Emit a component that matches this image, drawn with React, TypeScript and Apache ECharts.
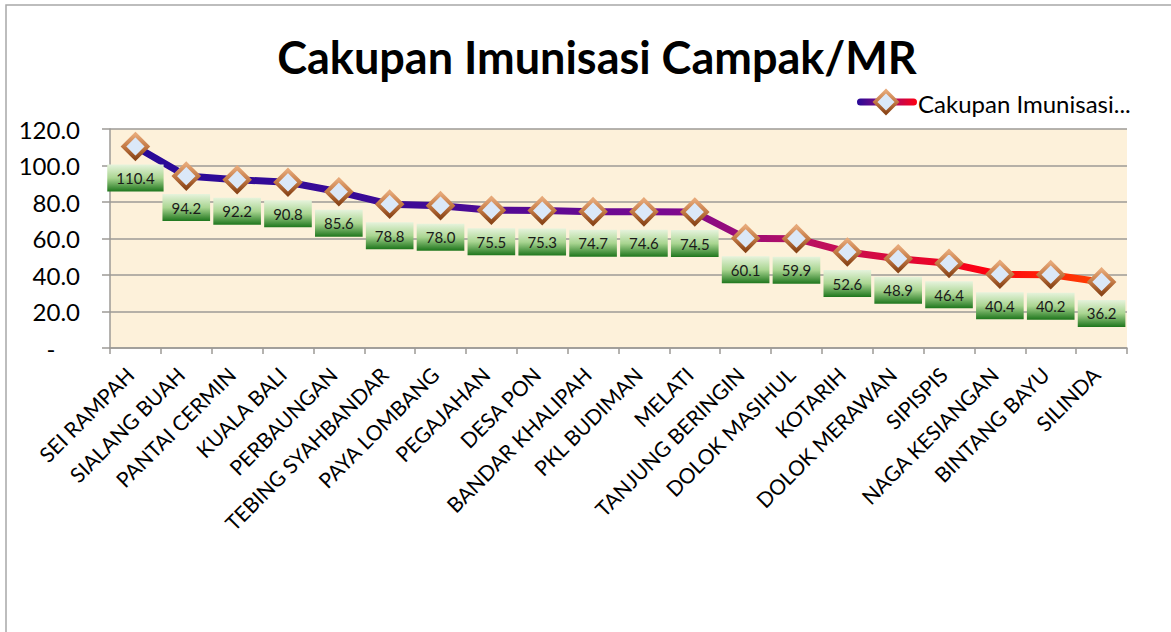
import React, { useEffect, useRef } from "react";
import * as echarts from "echarts";

const TITLE = "Cakupan Imunisasi Campak/MR";
const SERIES_NAME = "Cakupan Imunisasi...";
const categories = [
  "SEI RAMPAH", "SIALANG BUAH", "PANTAI CERMIN", "KUALA BALI", "PERBAUNGAN",
  "TEBING SYAHBANDAR", "PAYA LOMBANG", "PEGAJAHAN", "DESA PON", "BANDAR KHALIPAH",
  "PKL BUDIMAN", "MELATI", "TANJUNG BERINGIN", "DOLOK MASIHUL", "KOTARIH",
  "DOLOK MERAWAN", "SIPISPIS", "NAGA KESIANGAN", "BINTANG BAYU", "SILINDA",
];
const values = [
  110.4, 94.2, 92.2, 90.8, 85.6, 78.8, 78.0, 75.5, 75.3, 74.7,
  74.6, 74.5, 60.1, 59.9, 52.6, 48.9, 46.4, 40.4, 40.2, 36.2,
];
const yTicks = [0, 20, 40, 60, 80, 100, 120];

const FONT = "Lato, 'Open Sans', sans-serif";

export default function App() {
  const ref = useRef<HTMLDivElement>(null);
  useEffect(() => {
    if (!ref.current) return;
    const chart = echarts.init(ref.current, undefined, { renderer: "svg" });
    const lineGrad = new echarts.graphic.LinearGradient(0, 0, 1, 0, [
      { offset: 0, color: "#280a98" },
      { offset: 0.3, color: "#3f0a96" },
      { offset: 0.55, color: "#7a0990" },
      { offset: 0.7, color: "#bb0f60" },
      { offset: 0.88, color: "#ff0010" },
      { offset: 1, color: "#ff4200" },
    ]);
    const borderGrad = new echarts.graphic.LinearGradient(0, 0, 0, 1, [
      { offset: 0, color: "#e6a878" },
      { offset: 0.5, color: "#c47a45" },
      { offset: 1, color: "#8a4518" },
    ]);
    const labelGrad = new echarts.graphic.LinearGradient(0, 0, 0, 1, [
      { offset: 0, color: "#e6f3dc" },
      { offset: 0.5, color: "#a9d591" },
      { offset: 1, color: "#1e761c" },
    ]);
    const legendGrad = new echarts.graphic.LinearGradient(0, 0, 1, 0, [
      { offset: 0, color: "#280a98" },
      { offset: 0.5, color: "#9a0a7a" },
      { offset: 1, color: "#ff0010" },
    ]);
    chart.setOption({
      animation: false,
      backgroundColor: "#ffffff",
      title: {
        text: TITLE,
        left: 592,
        top: 29,
        textAlign: "center",
        textStyle: { fontFamily: FONT, fontWeight: "bold", fontSize: 45, color: "#000" },
      },
      grid: {
        left: 110,
        right: 44,
        top: 129,
        bottom: 284,
        show: true,
        backgroundColor: "#fdf1da",
        borderWidth: 0,
      },
      xAxis: {
        type: "category",
        data: categories,
        boundaryGap: true,
        axisLine: { lineStyle: { color: "#9c9a96", width: 1.5 } },
        axisTick: { show: true, length: 6, lineStyle: { color: "#9c9a96", width: 1.5 } },
        axisLabel: {
          rotate: 45,
          interval: 0,
          margin: 17,
          padding: [0, 8, 0, 0],
          fontFamily: FONT,
          fontSize: 21,
          color: "#000",
        },
      },
      yAxis: {
        type: "value",
        min: 0,
        max: 120,
        interval: 20,
        axisLine: { show: true, lineStyle: { color: "#9c9a96", width: 1.5 } },
        axisTick: { show: true, length: 8, lineStyle: { color: "#9c9a96", width: 1.5 } },
        splitLine: { show: true, lineStyle: { color: "#9c9a96", width: 1.5 } },
        axisLabel: {
          margin: 30,
          fontFamily: FONT,
          fontSize: 24,
          color: "#000",
          customValues: yTicks,
          formatter: (v: number) => (v === 0 ? "-    " : v.toFixed(1)),
        },
      },
      series: [
        {
          name: SERIES_NAME,
          type: "line",
          data: values,
          symbol: "diamond",
          symbolSize: 24,
          lineStyle: { width: 7, color: lineGrad },
          itemStyle: { color: "#dbe8f8", borderColor: borderGrad, borderWidth: 4 },
          label: {
            show: true,
            position: "bottom",
            distance: 4,
            formatter: (p: any) => p.value.toFixed(1),
            fontFamily: FONT,
            fontSize: 15,
            color: "#1a1a1a",
            lineHeight: 17,
            padding: [5, 9, 5, 9],
            backgroundColor: labelGrad,
          },
          z: 3,
        },
      ],
      graphic: [
        {
          type: "rect",
          shape: { x: 6, y: 5, width: 1300, height: 800 },
          style: { fill: "none", stroke: "#a8a8a8", lineWidth: 1.5 },
          silent: true,
          z: -1,
        },
        {
          type: "rect",
          shape: { x: 857, y: 98.5, width: 60, height: 7, r: 3.5 },
          style: { fill: legendGrad },
        },
        {
          type: "polygon",
          shape: { points: [[886, 91], [897, 102], [886, 113], [875, 102]] },
          style: { fill: "#dbe8f8", stroke: borderGrad, lineWidth: 3.5 },
        },
        {
          type: "text",
          x: 918,
          y: 103,
          style: {
            text: SERIES_NAME,
            fontFamily: FONT,
            fontSize: 24,
            fill: "#000",
            verticalAlign: "middle",
            align: "left",
          },
        },
      ],
    });
    return () => chart.dispose();
  }, []);
  return (
    <div
      ref={ref}
      style={{ position: "fixed", left: 0, top: 0, width: 1171, height: 632 }}
    />
  );
}
